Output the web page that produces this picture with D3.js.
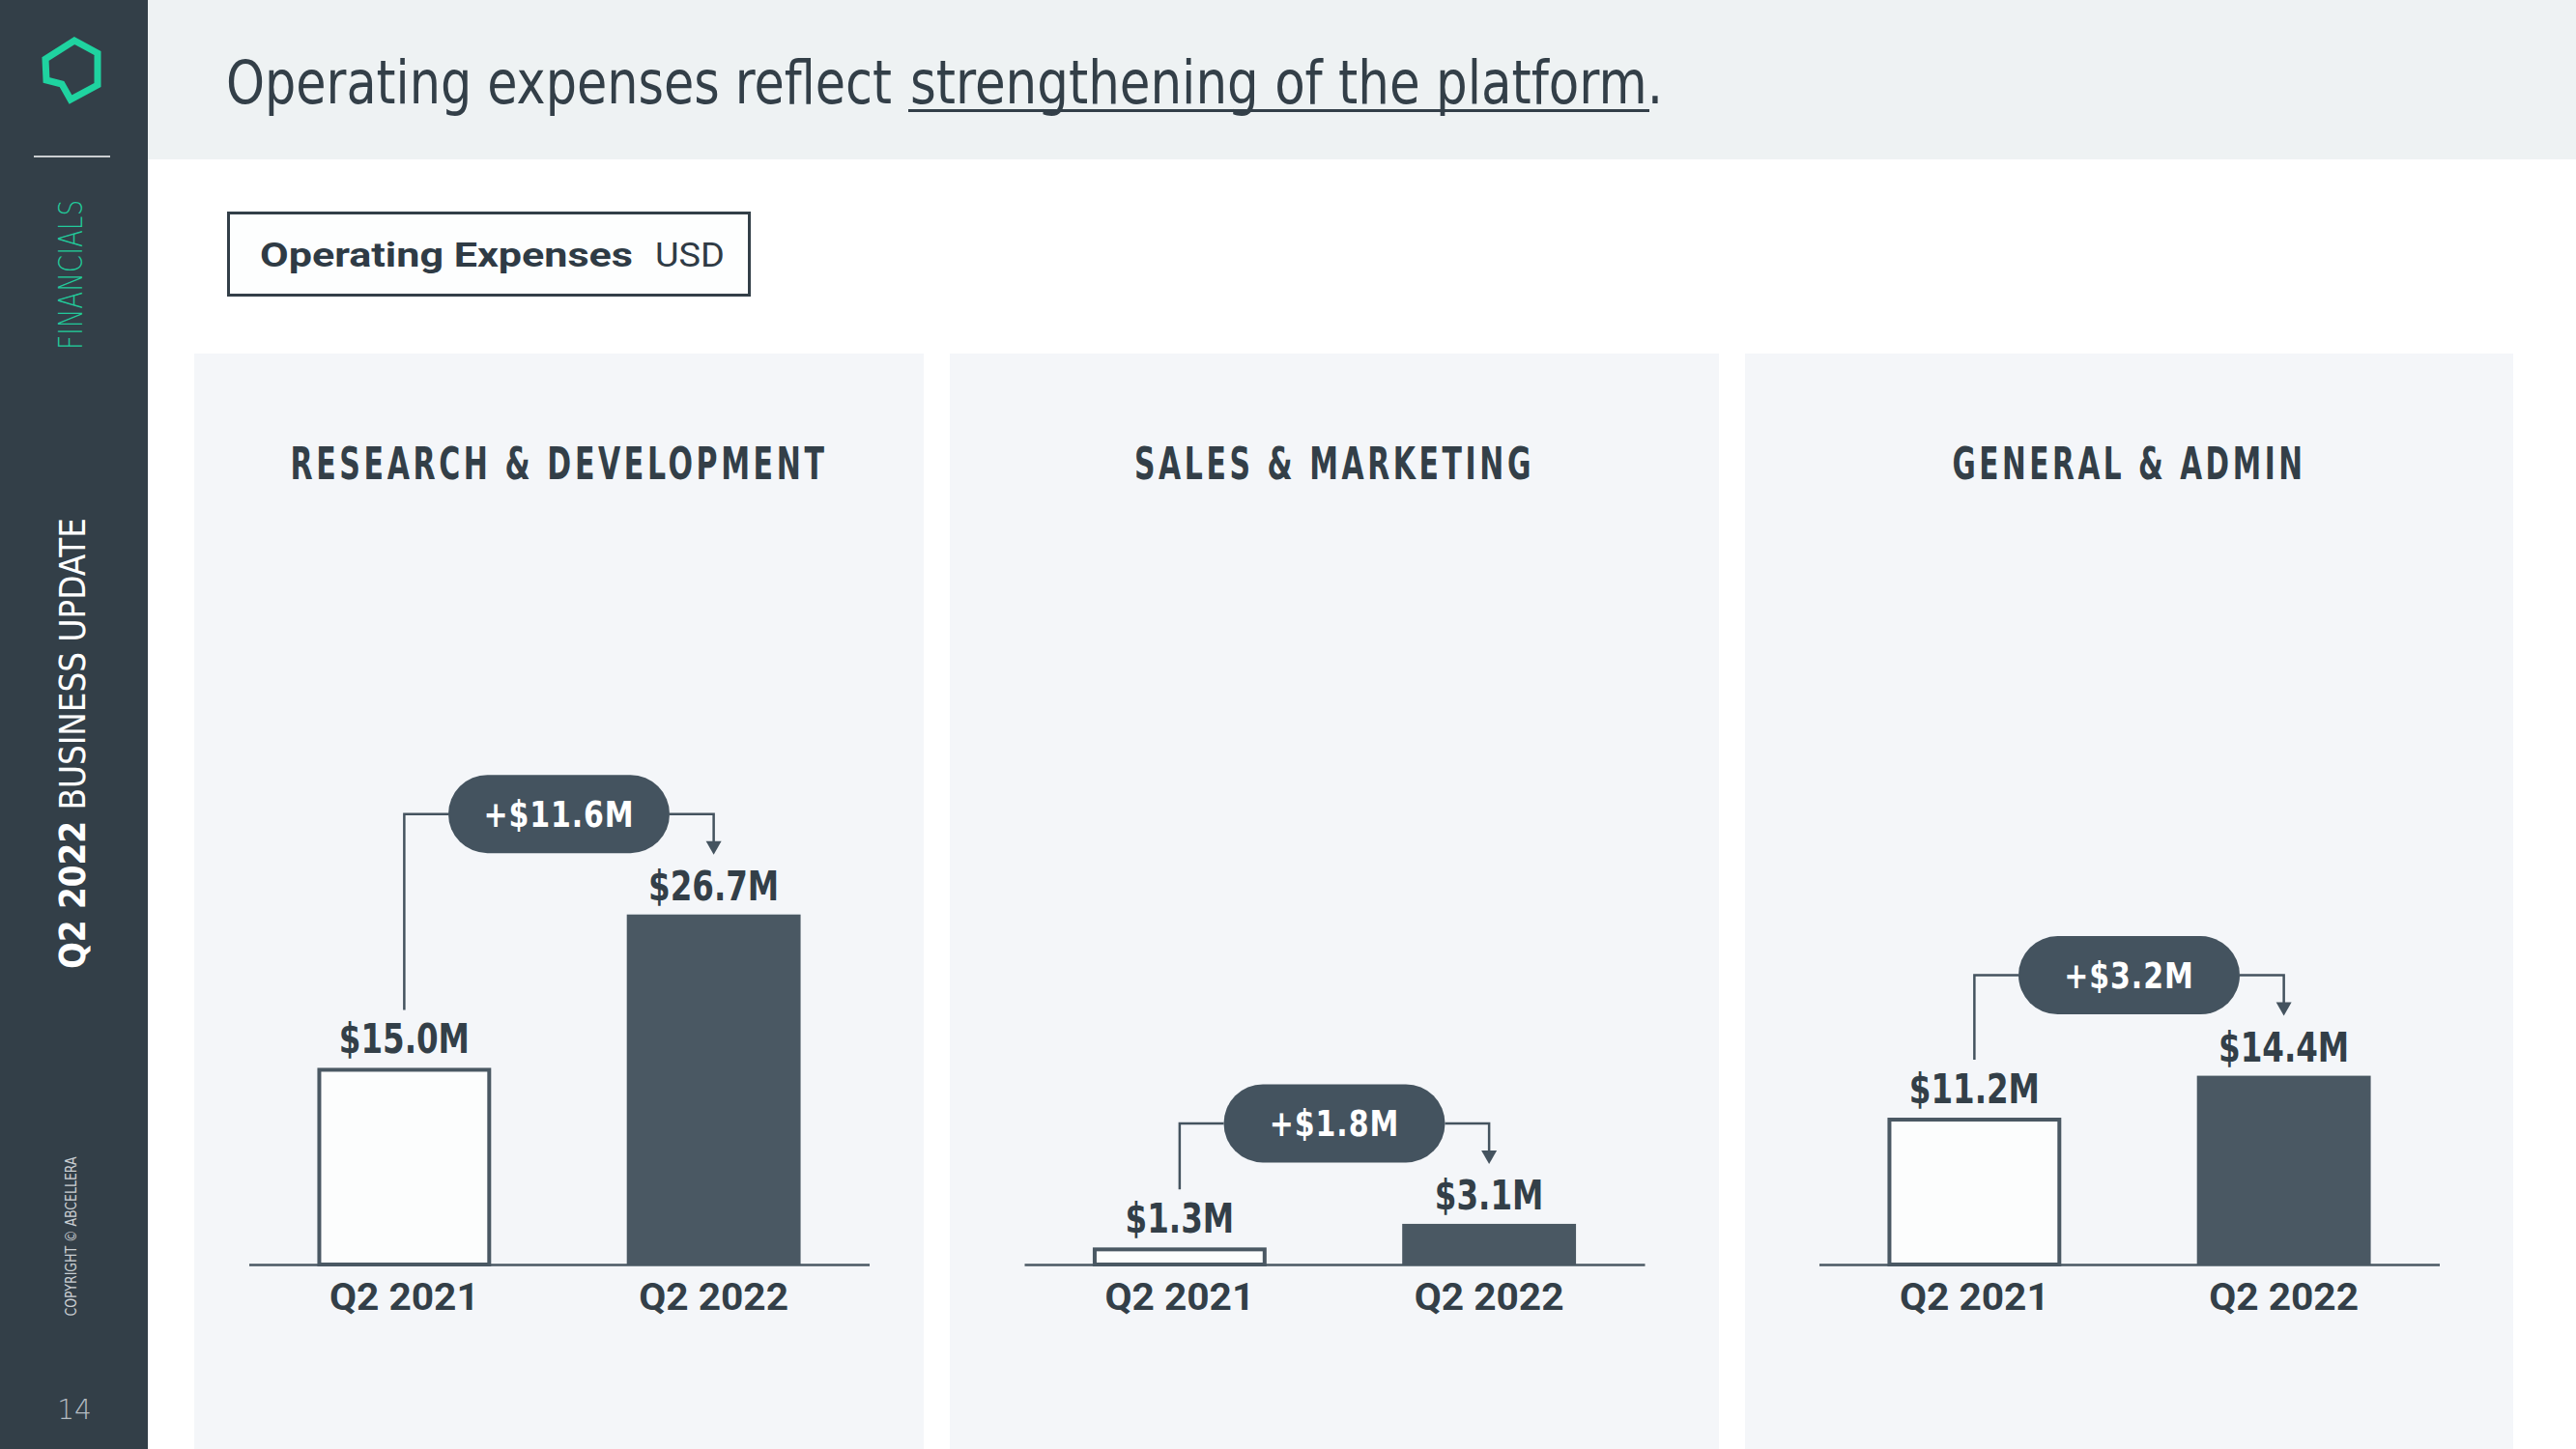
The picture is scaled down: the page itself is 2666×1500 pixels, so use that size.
<!DOCTYPE html>
<html><head><meta charset="utf-8">
<script src="https://cdn.jsdelivr.net/npm/d3@7"></script>
<style>html,body{margin:0;padding:0;background:#fff;} svg{display:block}</style>
</head><body>
<svg id="c" width="2666" height="1500"></svg>
<script>
// ---- data ----
const panelTitles = ["RESEARCH & DEVELOPMENT", "SALES & MARKETING", "GENERAL & ADMIN"];
const periods = ["Q2 2021", "Q2 2022"];
const valuesQ2_2021 = [15.0, 1.3, 11.2];
const valuesQ2_2022 = [26.7, 3.1, 14.4];
const changeLabels = ["+$11.6M", "+$1.8M", "+$3.2M"];
const headline = ["Operating expenses reflect", "strengthening of the platform", "."];
const boxLabel = ["Operating Expenses", "USD"];

// ---- style ----
const DARK = "#333f48", BAR = "#4a5863", PILL = "#44535f", PANEL = "#f4f6f9";
const COND = "'DejaVu Sans Condensed','DejaVu Sans',sans-serif";
const svg = d3.select("#c");

function squeeze(sel, f) { sel.each(function () { const L = this.getComputedTextLength(); d3.select(this).attr("textLength", L * f).attr("lengthAdjust", "spacingAndGlyphs"); }); }
function fit(sel, w) { sel.attr("textLength", w).attr("lengthAdjust", "spacingAndGlyphs"); }

svg.append("rect").attr("width", 2666).attr("height", 1500).attr("fill", "#ffffff");
svg.append("rect").attr("x", 153).attr("y", 0).attr("width", 2513).attr("height", 165).attr("fill", "#eef2f3");

// sidebar
svg.append("rect").attr("x", 0).attr("y", 0).attr("width", 153).attr("height", 1500).attr("fill", "#333f48");
svg.append("polygon").attr("points", "77,42 101,55 101,88 73,103 64,87 48,83 47,61")
  .attr("fill", "none").attr("stroke", "#1fd3a0").attr("stroke-width", 7).attr("stroke-linejoin", "miter");
svg.append("line").attr("x1", 35).attr("x2", 114).attr("y1", 162).attr("y2", 162).attr("stroke", "#ffffff").attr("stroke-width", 1.5);
fit(svg.append("text").attr("transform", "translate(85,284.5) rotate(-90)").attr("text-anchor", "middle")
  .attr("font-family", "'DejaVu Sans',sans-serif").attr("font-weight", 200).attr("font-size", 34).attr("fill", "#22c99a").text("FINANCIALS"), 155);
const sideT = svg.append("text").attr("transform", "translate(88,769.5) rotate(-90)").attr("text-anchor", "middle")
  .attr("font-family", COND).attr("font-size", 37).attr("fill", "#ffffff");
sideT.append("tspan").attr("font-weight", 700).text("Q2 2022 ");
sideT.append("tspan").attr("font-weight", 400).text("BUSINESS UPDATE");
fit(sideT, 467);
fit(svg.append("text").attr("transform", "translate(79,1280) rotate(-90)").attr("text-anchor", "middle")
  .attr("font-family", COND).attr("font-size", 16).attr("fill", "#c9ced2").text("COPYRIGHT © ABCELLERA"), 165);
svg.append("text").attr("x", 77).attr("y", 1469).attr("text-anchor", "middle").attr("font-family", "'DejaVu Sans',sans-serif")
  .attr("font-weight", 200).attr("font-size", 28).attr("fill", "#b5bcc2").text("14");

// headline
fit(svg.append("text").attr("x", 234).attr("y", 107).attr("font-family", COND).attr("font-size", 62)
  .attr("fill", DARK).text(headline[0]), 689);
fit(svg.append("text").attr("x", 942).attr("y", 107).attr("font-family", COND).attr("font-size", 62)
  .attr("fill", DARK).text(headline[1] + headline[2]), 779);
svg.append("line").attr("x1", 940).attr("x2", 1707).attr("y1", 114.5).attr("y2", 114.5).attr("stroke", DARK).attr("stroke-width", 3);

// sub box
svg.append("rect").attr("x", 236.5).attr("y", 220.5).attr("width", 539).attr("height", 85)
  .attr("fill", "#fdfefe").attr("stroke", DARK).attr("stroke-width", 3);
fit(svg.append("text").attr("x", 269).attr("y", 276).attr("font-family", "Roboto,sans-serif").attr("font-weight", 700)
  .attr("font-size", 35).attr("fill", "#2f3b45").text(boxLabel[0]), 386);
fit(svg.append("text").attr("x", 678).attr("y", 276).attr("font-family", "Roboto,sans-serif").attr("font-weight", 400)
  .attr("font-size", 35).attr("fill", "#2f3b45").text(boxLabel[1]), 72);

// panels
const panels = [{ x0: 201, x1: 956 }, { x0: 983, x1: 1779 }, { x0: 1806, x1: 2601 }];
const titleW = [556, 414, 366];
const baseY = 1309;
const y = d3.scaleLinear().domain([0, 30]).range([baseY, baseY - 30 * 13.57]);
const fmt = v => "$" + v.toFixed(1) + "M";

panels.forEach((p, i) => {
  const g = svg.append("g");
  g.append("rect").attr("x", p.x0).attr("y", 366).attr("width", p.x1 - p.x0).attr("height", 1134).attr("fill", PANEL);
  const cx = (p.x0 + p.x1) / 2;
  fit(g.append("text").attr("x", cx).attr("y", 496).attr("text-anchor", "middle").attr("font-family", COND)
    .attr("font-weight", 700).attr("font-size", 46).attr("letter-spacing", 5).attr("fill", DARK).text(panelTitles[i]), titleW[i]);

  const x = d3.scaleBand().domain(periods).range([cx - 321, cx + 321]).paddingInner(0.4384).paddingOuter(0.2215);
  const vals = [valuesQ2_2021[i], valuesQ2_2022[i]];
  const data = periods.map((k, j) => ({ k, v: vals[j], j }));

  const ax = g.append("g").attr("transform", `translate(0,${baseY})`)
    .call(d3.axisBottom(x).tickSize(0).tickSizeOuter(0).tickPadding(20));
  ax.select(".domain").attr("stroke", BAR).attr("stroke-width", 2.5);
  ax.selectAll("text").attr("font-family", "Roboto,sans-serif").attr("font-weight", 700).attr("font-size", 38)
    .attr("fill", DARK);
  squeeze(ax.selectAll("text"), 1.07);

  g.selectAll("rect.bar").data(data).join("rect").attr("class", "bar")
    .attr("x", d => d.j === 0 ? x(d.k) + 2 : x(d.k))
    .attr("width", d => d.j === 0 ? x.bandwidth() - 4 : x.bandwidth())
    .attr("y", d => d.j === 0 ? y(d.v) + 2 : y(d.v))
    .attr("height", d => d.j === 0 ? Math.max(0, baseY - y(d.v) - 2) : baseY - y(d.v))
    .attr("fill", d => d.j === 0 ? "#fcfdfd" : BAR)
    .attr("stroke", d => d.j === 0 ? BAR : "none").attr("stroke-width", 4);

  squeeze(g.selectAll("text.val").data(data).join("text").attr("class", "val")
    .attr("x", d => x(d.k) + x.bandwidth() / 2).attr("y", d => y(d.v) - 15).attr("text-anchor", "middle")
    .attr("font-family", COND).attr("font-weight", 700).attr("font-size", 42).attr("fill", DARK)
    .text(d => fmt(d.v)), 0.86);

  const c1 = x(periods[0]) + x.bandwidth() / 2, c2 = x(periods[1]) + x.bandwidth() / 2;
  const topY = y(d3.max(vals));
  const py = topY - 104, pw = 229, ph = 81;
  const l1 = g.append("path").attr("d", `M${c1},${y(vals[0]) - 60}V${py}H${cx - pw / 2}`);
  const l2 = g.append("path").attr("d", `M${cx + pw / 2},${py}H${c2}V${y(vals[1]) - 74}`);
  [l1, l2].forEach(l => l.attr("stroke", PILL).attr("stroke-width", 2.5).attr("fill", "none"));
  const tip = y(vals[1]) - 62;
  g.append("path").attr("d", `M${c2 - 8},${tip - 14}L${c2 + 8},${tip - 14}L${c2},${tip}Z`).attr("fill", PILL);
  g.append("rect").attr("x", cx - pw / 2).attr("y", py - ph / 2).attr("width", pw).attr("height", ph)
    .attr("rx", ph / 2).attr("fill", PILL);
  squeeze(g.append("text").attr("x", cx).attr("y", py + 13).attr("text-anchor", "middle")
    .attr("font-family", COND).attr("font-weight", 700).attr("font-size", 37).attr("letter-spacing", 1)
    .attr("fill", "#ffffff").text(changeLabels[i]), 0.9);
});
</script>
</body></html>
